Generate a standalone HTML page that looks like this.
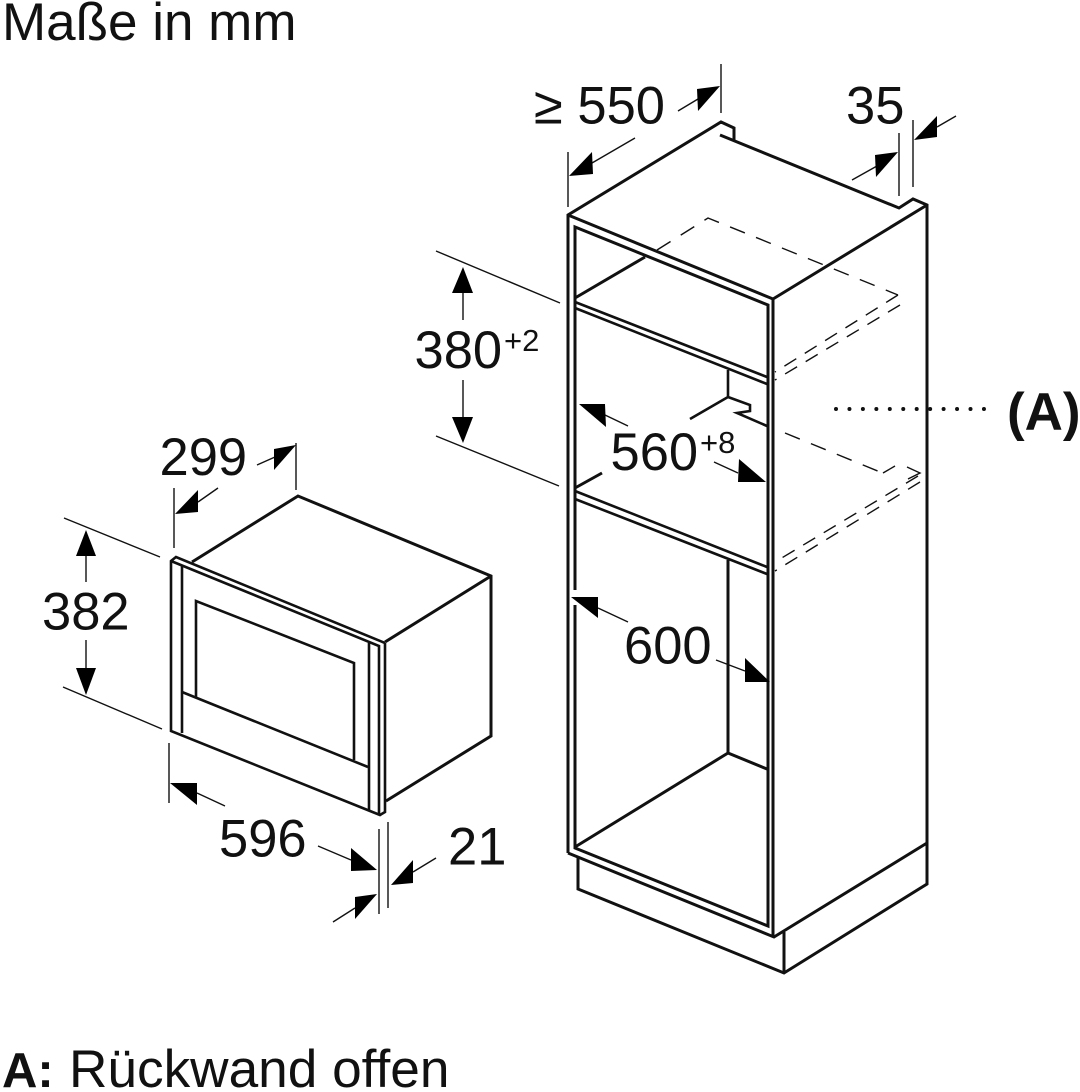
<!DOCTYPE html>
<html lang="de">
<head>
<meta charset="utf-8">
<title>Maße in mm</title>
<style>
html,body{margin:0;padding:0;background:#fff;}
svg{display:block;}
text{font-family:"Liberation Sans",sans-serif;fill:#111;}
.n{font-size:52.5px;}
.s{font-size:31px;}
.o{fill:none;stroke:#111;stroke-width:3;stroke-linejoin:miter;stroke-linecap:butt;}
.m{fill:none;stroke:#111;stroke-width:2.6;}
.t{fill:none;stroke:#111;stroke-width:1.4;}
.d{fill:none;stroke:#111;stroke-width:1.4;stroke-dasharray:16 12;}
.e{fill:none;stroke:#111;stroke-width:1.4;stroke-dasharray:14 10;}
.a{fill:#000;stroke:none;}
</style>
</head>
<body>
<svg width="1080" height="1092" viewBox="0 0 1080 1092" xmlns="http://www.w3.org/2000/svg">
<rect width="1080" height="1092" fill="#fff"/>

<text x="2" y="40" font-size="53">Maße in mm</text>
<text x="2" y="1087" font-size="49" font-weight="bold">A:</text>
<text x="69" y="1087" font-size="53.2">Rückwand offen</text>

<!-- Cabinet outline -->
<path class="o" d="M568 853V215L721 122L734 128V140M720 135L899 208L913 199L927 205V884L784 973L578 889V858"/>
<path class="o" d="M568 215L773 299L927 205"/>
<path class="o" d="M773 299V937"/>
<path class="o" d="M568 853L774 937L927 843"/>
<path class="o" d="M784 932V973"/>
<path class="o" d="M575 590V227L768 305V926L575 848V605"/>

<!-- Upper shelf -->
<path class="o" d="M575 298L645 257"/>
<path class="m" d="M575 302L767 377M575 308L767 384"/>
<path class="m" d="M728 370V397L690 419M728 397L750 405V411L737 413L767 426"/>

<!-- Middle shelf -->
<path class="o" d="M575 488L602 473"/>
<path class="m" d="M575 491L767 567M575 499L767 574"/>
<path class="o" d="M728 560V753L767 769"/>
<path class="o" d="M728 753L575 847"/>

<!-- Hidden dashes -->
<path class="d" d="M657 250L708 218L898 295"/>
<path class="e" d="M898 295L775 372"/>
<path class="e" d="M900 305L775 380"/>
<path class="d" d="M785 433L885 474"/>
<path class="t" d="M895 466L883 473"/>
<path class="t" d="M907 467L920 473L908 479"/>
<path class="e" d="M918 476L775 562"/>
<path class="e" d="M920 482L775 571"/>

<!-- Leader (A) -->
<path d="M836 409H988" fill="none" stroke="#111" stroke-width="4" stroke-linecap="round" stroke-dasharray="0 13.45"/>
<text x="1007" y="430" font-size="53" font-weight="bold">(A)</text>

<!-- Microwave -->
<path class="o" d="M192 562L298 496L491 576V736L386 801"/>
<path class="o" d="M491 576L385 642"/>
<path class="m" d="M385 643L176 557L171 561V731L380 815L385 812V643"/>
<path class="m" d="M171 561L379 646V815"/>
<path class="m" d="M182 566V733M369 643V810"/>
<path class="m" d="M196 698V601L354 663V760"/>
<path class="m" d="M182 692L368 767"/>

<!-- Dimension thin lines -->
<path class="t" d="M721 64V113M568 152V207M899 133V196M913 120V187"/>
<path class="t" d="M436 251L560 303M436 436L559 486"/>
<path class="t" d="M296 443V490M174 488V548"/>
<path class="t" d="M64 518L160 557M63 687L162 729"/>
<path class="t" d="M169 743V803M379 829V914M388 822V908"/>

<!-- Arrow stems -->
<path class="t" d="M678 111L698 99M635 138L592 163M852 180L877 166M956 116L937 127"/>
<path class="t" d="M463 293V320M463 380V417"/>
<path class="t" d="M628 426L605 415M714 462L738 473M628 622L598 608M716 660L745 671"/>
<path class="t" d="M257 465L275 457M218 488L198 502"/>
<path class="t" d="M86 556V582M86 640V668"/>
<path class="t" d="M225 806L197 793M318 846L351 860M436 858L413 872M333 922L355 908"/>

<!-- Arrowheads -->
<polygon class="a" points="720,86 697,89 698,111"/>
<polygon class="a" points="569,176 592,152 593,174"/>
<polygon class="a" points="898,152 875,155 876,177"/>
<polygon class="a" points="914,140 937,116 937,137"/>
<polygon class="a" points="463,267 452,293 473,293"/>
<polygon class="a" points="463,443 452,417 473,417"/>
<polygon class="a" points="579,404 605,404 606,427"/>
<polygon class="a" points="766,482 739,459 738,482"/>
<polygon class="a" points="571,597 598,597 598,618"/>
<polygon class="a" points="770,682 745,658 745,682"/>
<polygon class="a" points="296,445 274,449 274,470"/>
<polygon class="a" points="175,514 198,490 198,512"/>
<polygon class="a" points="86,530 76,556 96,556"/>
<polygon class="a" points="86,695 76,668 96,668"/>
<polygon class="a" points="170,783 197,783 197,805"/>
<polygon class="a" points="377,870 351,848 351,871"/>
<polygon class="a" points="391,885 413,860 413,883"/>
<polygon class="a" points="377,894 355,897 355,919"/>

<!-- Labels -->
<text class="n" x="534" y="123.5">≥ 550</text>
<text class="n" x="846" y="123.5">35</text>
<text class="n" x="414.5" y="368">380</text>
<text class="s" x="504" y="351">+2</text>
<text class="n" x="610.5" y="470">560</text>
<text class="s" x="700" y="453">+8</text>
<text class="n" x="624" y="663.5">600</text>
<text class="n" x="159.5" y="475">299</text>
<text class="n" x="42" y="629.5">382</text>
<text class="n" x="219" y="856.5">596</text>
<text class="n" x="448" y="864.5">21</text>
</svg>
</body>
</html>
